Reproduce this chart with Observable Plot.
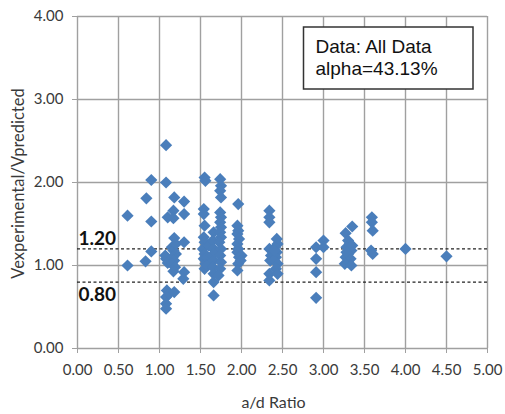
<!DOCTYPE html>
<html>
<head>
<meta charset="utf-8">
<script src="https://cdn.jsdelivr.net/npm/d3@7"></script>
<script src="https://cdn.jsdelivr.net/npm/@observablehq/plot@0.6"></script>
<style>
  html, body { margin: 0; padding: 0; background: #fff; }
</style>
</head>
<body>
<div id="chart"></div>
<script>
// Shear test results: shear span ratio vs. experimental / predicted shear strength
const adRatio = [
  0.61, 0.61,
  0.90, 0.84, 0.90, 0.90, 0.83,
  1.08, 1.08, 1.10, 1.08, 1.07, 1.10, 1.09, 1.08, 1.08, 1.08, 1.12,
  1.18, 1.17, 1.17, 1.18, 1.15, 1.17, 1.20, 1.16, 1.18, 1.15, 1.19, 1.17, 1.18, 1.20,
  1.30, 1.30, 1.30, 1.30, 1.29,
  1.55, 1.56, 1.54, 1.54, 1.55, 1.54, 1.55, 1.53, 1.55, 1.54, 1.56, 1.55, 1.58, 1.60, 1.58,
  1.66, 1.65, 1.66, 1.64, 1.66, 1.65, 1.66, 1.66, 1.66, 1.68,
  1.74, 1.75, 1.74, 1.75, 1.74, 1.75, 1.74, 1.75, 1.74, 1.75, 1.73, 1.75, 1.74, 1.75, 1.74, 1.72,
  1.96, 1.95, 1.96, 1.95, 1.97, 1.95, 1.96, 1.95, 1.97, 1.96, 1.95, 2.00, 1.99,
  2.34, 2.34, 2.34, 2.34, 2.36, 2.35, 2.34, 2.34,
  2.43, 2.44, 2.41, 2.43, 2.42, 2.40, 2.44, 2.42, 2.44, 2.40,
  2.91, 2.91, 2.91, 2.91,
  3.00, 3.00,
  3.27, 3.35, 3.30, 3.32, 3.28, 3.34, 3.30, 3.27, 3.33, 3.30, 3.26, 3.34, 3.28, 3.35,
  3.59, 3.59, 3.60, 3.58, 3.60,
  4.00,
  4.50
];
const vRatio = [
  1.60, 1.00,
  2.03, 1.81, 1.53, 1.17, 1.05,
  2.45, 2.00, 1.58, 1.08, 1.12, 1.03, 0.70, 0.62, 0.54, 0.48, 0.66,
  1.82, 1.66, 1.57, 1.33, 1.22, 1.18, 1.14, 1.10, 1.06, 1.02, 0.98, 0.93, 0.68, 1.26,
  1.77, 1.62, 1.28, 0.92, 0.84,
  2.06, 2.02, 1.68, 1.62, 1.48, 1.34, 1.28, 1.20, 1.14, 1.08, 1.02, 0.96, 1.10, 1.24, 1.00,
  1.40, 1.30, 1.20, 1.12, 1.06, 0.98, 0.90, 0.80, 0.64, 1.16,
  2.04, 1.96, 1.90, 1.82, 1.64, 1.58, 1.52, 1.46, 1.40, 1.34, 1.28, 1.20, 1.12, 1.04, 0.96, 0.88,
  1.74, 1.48, 1.42, 1.38, 1.32, 1.26, 1.20, 1.16, 1.10, 1.02, 0.94, 1.12, 1.06,
  1.66, 1.58, 1.52, 1.20, 1.12, 1.06, 0.90, 0.82,
  1.32, 1.26, 1.22, 1.16, 1.10, 1.06, 1.02, 0.96, 0.90, 1.18,
  1.22, 1.08, 0.92, 0.61,
  1.30, 1.22,
  1.39, 1.47, 1.30, 1.26, 1.22, 1.18, 1.14, 1.10, 1.08, 1.04, 1.02, 1.00, 1.16, 1.24,
  1.58, 1.52, 1.42, 1.18, 1.14,
  1.20,
  1.11
];

// Acceptance band limits around a perfect prediction
const upperLimit = [1.2];
const lowerLimit = [0.8];

const xTicks = [0, 0.5, 1, 1.5, 2, 2.5, 3, 3.5, 4, 4.5, 5];
const yTicks = [0, 1, 2, 3, 4];

const xTitle = "a/d Ratio";
const yTitle = "Vexperimental/Vpredicted";
const noteLines = ["Data: All Data", "alpha=43.13%"];

const points = adRatio.map((x, i) => ({x, y: vRatio[i]}));
const fmt = d3.format(".2f");

const gridColor = "#a0a0a0";
const markColor = "#4a7ebb";
const labelColor = "#3a3a3a";

// White note box in the upper right of the frame, drawn beneath the note text
const noteBox = (index, scales, values, dimensions) => {
  const {marginLeft, marginTop} = dimensions;
  return d3.create("svg:rect")
    .attr("x", marginLeft + 226.5)
    .attr("y", marginTop + 11)
    .attr("width", 169.5)
    .attr("height", 62)
    .attr("fill", "#fff")
    .attr("stroke", "#333")
    .attr("stroke-width", 1.5)
    .node();
};

const chart = Plot.plot({
  width: 505,
  height: 414,
  marginLeft: 77,
  marginRight: 18,
  marginTop: 16,
  marginBottom: 66,
  style: {fontFamily: "Lato, sans-serif", fontSize: "15px", color: labelColor, background: "#fff"},
  x: {domain: [0, 5]},
  y: {domain: [0, 4]},
  marks: [
    Plot.ruleX(xTicks, {stroke: gridColor, strokeWidth: 1.4}),
    Plot.ruleY(yTicks, {stroke: gridColor, strokeWidth: 1.4}),
    Plot.ruleY(upperLimit.concat(lowerLimit), {stroke: "#222", strokeWidth: 1.3, strokeDasharray: "3,2.5"}),
    Plot.axisX({
      ticks: xTicks, tickFormat: fmt, tickSize: 5, tickPadding: 11,
      stroke: gridColor, fill: labelColor, fontSize: 15, label: null
    }),
    Plot.axisY({
      ticks: yTicks, tickFormat: fmt, tickSize: 5, tickPadding: 9,
      stroke: gridColor, fill: labelColor, fontSize: 15, label: null
    }),
    // Axis titles
    Plot.text([xTitle], {
      frameAnchor: "bottom", dx: -9, dy: 54, lineAnchor: "middle", textAnchor: "middle",
      fontSize: 16, fill: labelColor
    }),
    Plot.text([yTitle], {
      frameAnchor: "left", dx: -59, dy: 1, rotate: -90, lineAnchor: "middle", textAnchor: "middle",
      fontSize: 16.5, fill: labelColor
    }),
    Plot.dot(points, {x: "x", y: "y", symbol: "diamond2", r: 5.5, fill: markColor, stroke: null}),
    Plot.text(upperLimit, {
      x: 0, y: d => d, text: fmt, textAnchor: "start", lineAnchor: "bottom",
      dx: 1, dy: -4, fontWeight: "bold", fontSize: 19, fill: "#111"
    }),
    Plot.text(lowerLimit, {
      x: 0, y: d => d, text: fmt, textAnchor: "start", lineAnchor: "top",
      dx: 1, dy: 5, fontWeight: "bold", fontSize: 19, fill: "#111"
    }),
    noteBox,
    Plot.text([noteLines.join("\n")], {
      frameAnchor: "top-left", dx: 238, dy: 20.5, lineAnchor: "top", textAnchor: "start",
      fontFamily: "Liberation Sans, Arial, sans-serif", fontSize: 19, lineHeight: 1.18, fill: "#111"
    })
  ]
});

document.getElementById("chart").append(chart);
</script>
</body>
</html>
